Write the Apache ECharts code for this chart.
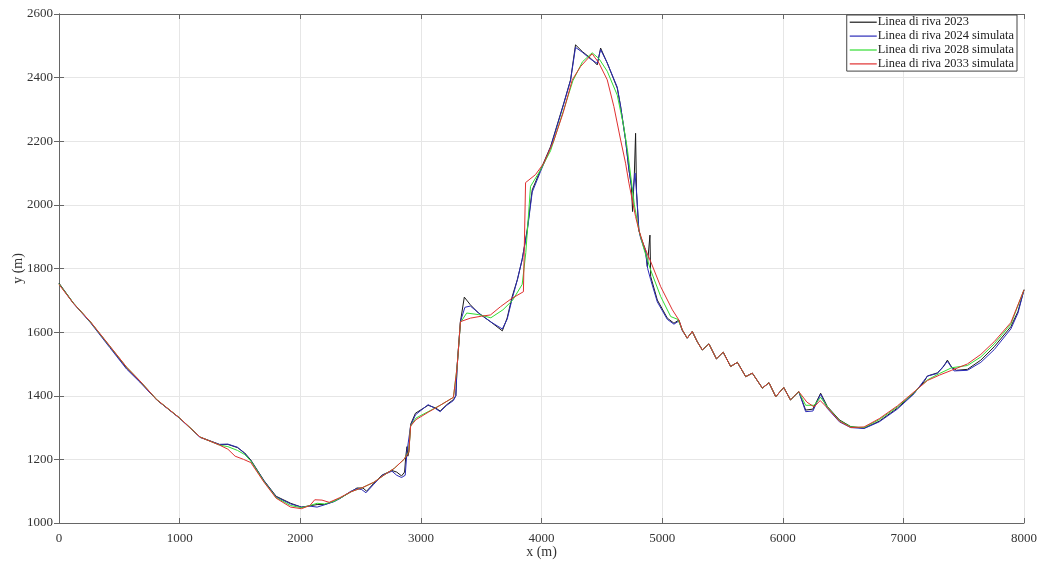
<!DOCTYPE html>
<html>
<head>
<meta charset="utf-8">
<script src="https://cdn.jsdelivr.net/npm/echarts@6/dist/echarts.min.js"></script>
<style>html,body{margin:0;padding:0;background:#fff;}#c{width:1039px;height:566px;}</style>
</head>
<body>
<div id="c"></div>
<script>
const seriesNames = ['Linea di riva 2023', 'Linea di riva 2024 simulata', 'Linea di riva 2028 simulata', 'Linea di riva 2033 simulata'];
const xTicks = [0, 1000, 2000, 3000, 4000, 5000, 6000, 7000, 8000];
const yTicks = [1000, 1200, 1400, 1600, 1800, 2000, 2200, 2400, 2600];

const waves = [[5208,1581],[5250,1602],[5291,1570],[5333,1544],[5388,1563],[5450,1516],[5506,1537],[5568,1492],[5624,1505],[5693,1460],[5748,1471],[5831,1424],[5886,1441],[5942,1397],[6008,1426],[6064,1387],[6133,1413]];

const line2023 = [[0,1754],[120,1691],[260,1632],[420,1555],[560,1487],[670,1445],[810,1387],[1000,1330],[1170,1270],[1330,1247],[1400,1247],[1480,1237],[1540,1220],[1590,1198],[1700,1133],[1800,1084],[1920,1062],[2010,1050],[2080,1054],[2140,1058],[2200,1058],[2280,1068],[2330,1078],[2420,1098],[2470,1110],[2520,1110],[2550,1100],[2610,1125],[2680,1151],[2760,1165],[2800,1160],[2840,1148],[2865,1160],[2875,1210],[2885,1240],[2892,1210],[2900,1225],[2915,1310],[2955,1345],[3060,1370],[3120,1362],[3160,1352],[3215,1372],[3270,1388],[3290,1400],[3300,1490],[3328,1633],[3360,1710],[3410,1686],[3480,1659],[3580,1632],[3675,1604],[3715,1644],[3757,1712],[3800,1765],[3840,1828],[3881,1921],[3923,2047],[3992,2110],[4075,2183],[4185,2320],[4241,2393],[4282,2503],[4338,2482],[4407,2461],[4462,2440],[4490,2493],[4545,2446],[4628,2367],[4656,2309],[4697,2204],[4725,2110],[4745,2060],[4755,1979],[4770,2100],[4780,2225],[4788,2037],[4807,1921],[4822,1900],[4863,1858],[4877,1806],[4899,1905],[4905,1775],[4960,1701],[5043,1644],[5098,1628],[5139,1638],[5167,1607]].concat(waves, [[6190,1355],[6250,1358],[6314,1408],[6370,1366],[6470,1324],[6564,1303],[6674,1298],[6800,1320],[6950,1361],[7088,1408],[7171,1444],[7199,1462],[7282,1472],[7330,1490],[7365,1512],[7400,1490],[7440,1480],[7531,1483],[7642,1512],[7753,1554],[7891,1617],[7950,1665],[8000,1733]]);

const line2024 = [[0,1752],[120,1690],[260,1630],[420,1552],[560,1484],[670,1443],[810,1387],[1000,1329],[1170,1269],[1330,1247],[1400,1248],[1480,1238],[1540,1218],[1590,1196],[1700,1132],[1800,1082],[1920,1060],[2010,1050],[2080,1053],[2140,1050],[2200,1057],[2280,1067],[2330,1077],[2420,1100],[2470,1108],[2510,1105],[2545,1095],[2610,1122],[2680,1150],[2760,1163],[2800,1150],[2840,1143],[2870,1150],[2885,1225],[2900,1230],[2915,1305],[2955,1340],[3060,1372],[3120,1360],[3160,1350],[3215,1370],[3270,1385],[3290,1400],[3300,1490],[3328,1633],[3365,1678],[3410,1682],[3480,1660],[3580,1632],[3675,1610],[3715,1640],[3757,1705],[3800,1765],[3840,1830],[3881,1915],[3923,2040],[3992,2105],[4075,2180],[4185,2318],[4241,2392],[4282,2495],[4338,2480],[4407,2458],[4462,2445],[4490,2488],[4545,2446],[4628,2370],[4656,2309],[4697,2204],[4725,2110],[4745,2060],[4758,2040],[4775,2100],[4790,2030],[4807,1921],[4822,1895],[4863,1850],[4880,1800],[4905,1765],[4960,1695],[5043,1640],[5098,1625],[5139,1635],[5167,1605]].concat(waves, [[6190,1350],[6250,1352],[6314,1405],[6370,1360],[6470,1318],[6564,1300],[6674,1297],[6800,1318],[6950,1358],[7088,1406],[7171,1448],[7200,1462],[7282,1470],[7365,1508],[7420,1478],[7531,1480],[7642,1505],[7753,1545],[7891,1610],[7950,1660],[8000,1733]]);

const line2028 = [[0,1752],[120,1691],[260,1632],[420,1556],[560,1490],[670,1447],[810,1388],[1000,1330],[1170,1270],[1330,1245],[1400,1240],[1480,1228],[1540,1215],[1590,1195],[1700,1130],[1800,1080],[1920,1055],[2010,1048],[2080,1055],[2140,1062],[2200,1060],[2280,1068],[2330,1078],[2420,1098],[2520,1112],[2610,1128],[2700,1152],[2780,1172],[2860,1200],[2900,1225],[2915,1305],[2960,1330],[3060,1350],[3160,1370],[3270,1395],[3300,1490],[3328,1630],[3380,1660],[3480,1655],[3580,1645],[3680,1670],[3760,1700],[3840,1750],[3870,1850],[3909,2058],[3992,2110],[4075,2170],[4185,2300],[4260,2390],[4340,2450],[4420,2478],[4476,2460],[4545,2420],[4628,2345],[4680,2250],[4710,2180],[4740,2090],[4770,2000],[4807,1921],[4850,1860],[4905,1795],[4988,1712],[5071,1649],[5130,1640],[5167,1607]].concat(waves, [[6190,1370],[6260,1370],[6314,1395],[6380,1360],[6470,1322],[6564,1302],[6674,1300],[6800,1325],[6950,1365],[7088,1410],[7200,1450],[7300,1470],[7400,1488],[7531,1495],[7642,1522],[7753,1563],[7891,1625],[8000,1733]]);

const line2033 = [[0,1750],[120,1690],[260,1633],[420,1557],[560,1490],[670,1447],[810,1388],[1000,1330],[1170,1270],[1330,1245],[1400,1232],[1460,1210],[1530,1200],[1590,1190],[1700,1128],[1800,1078],[1920,1050],[2010,1045],[2080,1055],[2120,1073],[2180,1072],[2240,1065],[2330,1080],[2420,1098],[2520,1112],[2610,1128],[2700,1152],[2780,1172],[2860,1200],[2900,1222],[2915,1305],[2960,1325],[3060,1348],[3160,1370],[3270,1395],[3300,1490],[3328,1633],[3411,1644],[3500,1650],[3577,1654],[3660,1680],[3750,1705],[3850,1727],[3868,2070],[3950,2095],[4019,2131],[4100,2200],[4180,2290],[4255,2393],[4324,2435],[4420,2475],[4476,2446],[4545,2393],[4600,2309],[4656,2204],[4697,2131],[4725,2068],[4780,1963],[4807,1921],[4850,1870],[4905,1822],[4988,1743],[5085,1670],[5139,1638],[5167,1607]].concat(waves, [[6200,1380],[6260,1365],[6310,1385],[6380,1358],[6470,1320],[6564,1300],[6674,1302],[6800,1328],[6950,1368],[7088,1412],[7200,1448],[7300,1465],[7400,1480],[7531,1500],[7642,1530],[7753,1570],[7891,1630],[8000,1733]]);

const colors = ['#1a1a1a', '#2b2bb8', '#33dd33', '#e03030'];
const allData = [line2023, line2024, line2028, line2033];
const font = 'Liberation Serif';

const chart = echarts.init(document.getElementById('c'));
const axisCommon = {
  axisLine: { show: true, lineStyle: { color: '#666', width: 1 } },
  axisTick: { show: true, inside: true, length: 5, lineStyle: { color: '#666' } },
};
const plainNum = v => String(v);
chart.setOption({
  animation: false,
  backgroundColor: '#fff',
  color: colors,
  grid: { left: 59, right: 15, top: 14, bottom: 43, containLabel: false, outerBoundsMode: 'none' },
  legend: {
    orient: 'vertical', right: 22, top: 15,
    backgroundColor: '#fff', borderColor: '#444', borderWidth: 1,
    padding: [1, 3, 1, 3], itemGap: 1.5, itemWidth: 27, itemHeight: 1.2, icon: 'rect',
    textStyle: { fontFamily: font, fontSize: 12.4, color: '#222', padding: [0, 0, 0, -4], lineHeight: 12.4 },
    data: seriesNames
  },
  xAxis: [
    Object.assign({}, axisCommon, {
      type: 'value', min: xTicks[0], max: xTicks[xTicks.length - 1], interval: 1000,
      name: 'x (m)', nameLocation: 'middle', nameGap: 22, nameMoveOverlap: false,
      nameTextStyle: { fontFamily: font, fontSize: 14, color: '#333' },
      axisLabel: { fontFamily: font, fontSize: 13, color: '#333', margin: 9, formatter: plainNum },
      splitLine: { show: true, lineStyle: { color: '#e6e6e6' } }
    }),
    Object.assign({}, axisCommon, {
      type: 'value', position: 'top', min: xTicks[0], max: xTicks[xTicks.length - 1], interval: 1000,
      axisLabel: { show: false }, splitLine: { show: false }
    })
  ],
  yAxis: [
    Object.assign({}, axisCommon, {
      type: 'value', min: yTicks[0], max: yTicks[yTicks.length - 1], interval: 200,
      name: 'y (m)', nameLocation: 'middle', nameGap: 34, nameRotate: 90, nameMoveOverlap: false,
      nameTextStyle: { fontFamily: font, fontSize: 14, color: '#333' },
      axisLabel: { fontFamily: font, fontSize: 13, color: '#333', margin: 6, formatter: plainNum },
      splitLine: { show: true, lineStyle: { color: '#e6e6e6' } }
    }),
    Object.assign({}, axisCommon, {
      type: 'value', position: 'right', min: yTicks[0], max: yTicks[yTicks.length - 1], interval: 200,
      axisLabel: { show: false }, splitLine: { show: false }
    })
  ],
  series: seriesNames.map((n, i) => ({
    name: n, type: 'line', data: allData[i], symbol: 'none', smooth: false,
    lineStyle: { width: 1, color: colors[i] }, z: 2 + i
  }))
});
</script>
</body>
</html>
